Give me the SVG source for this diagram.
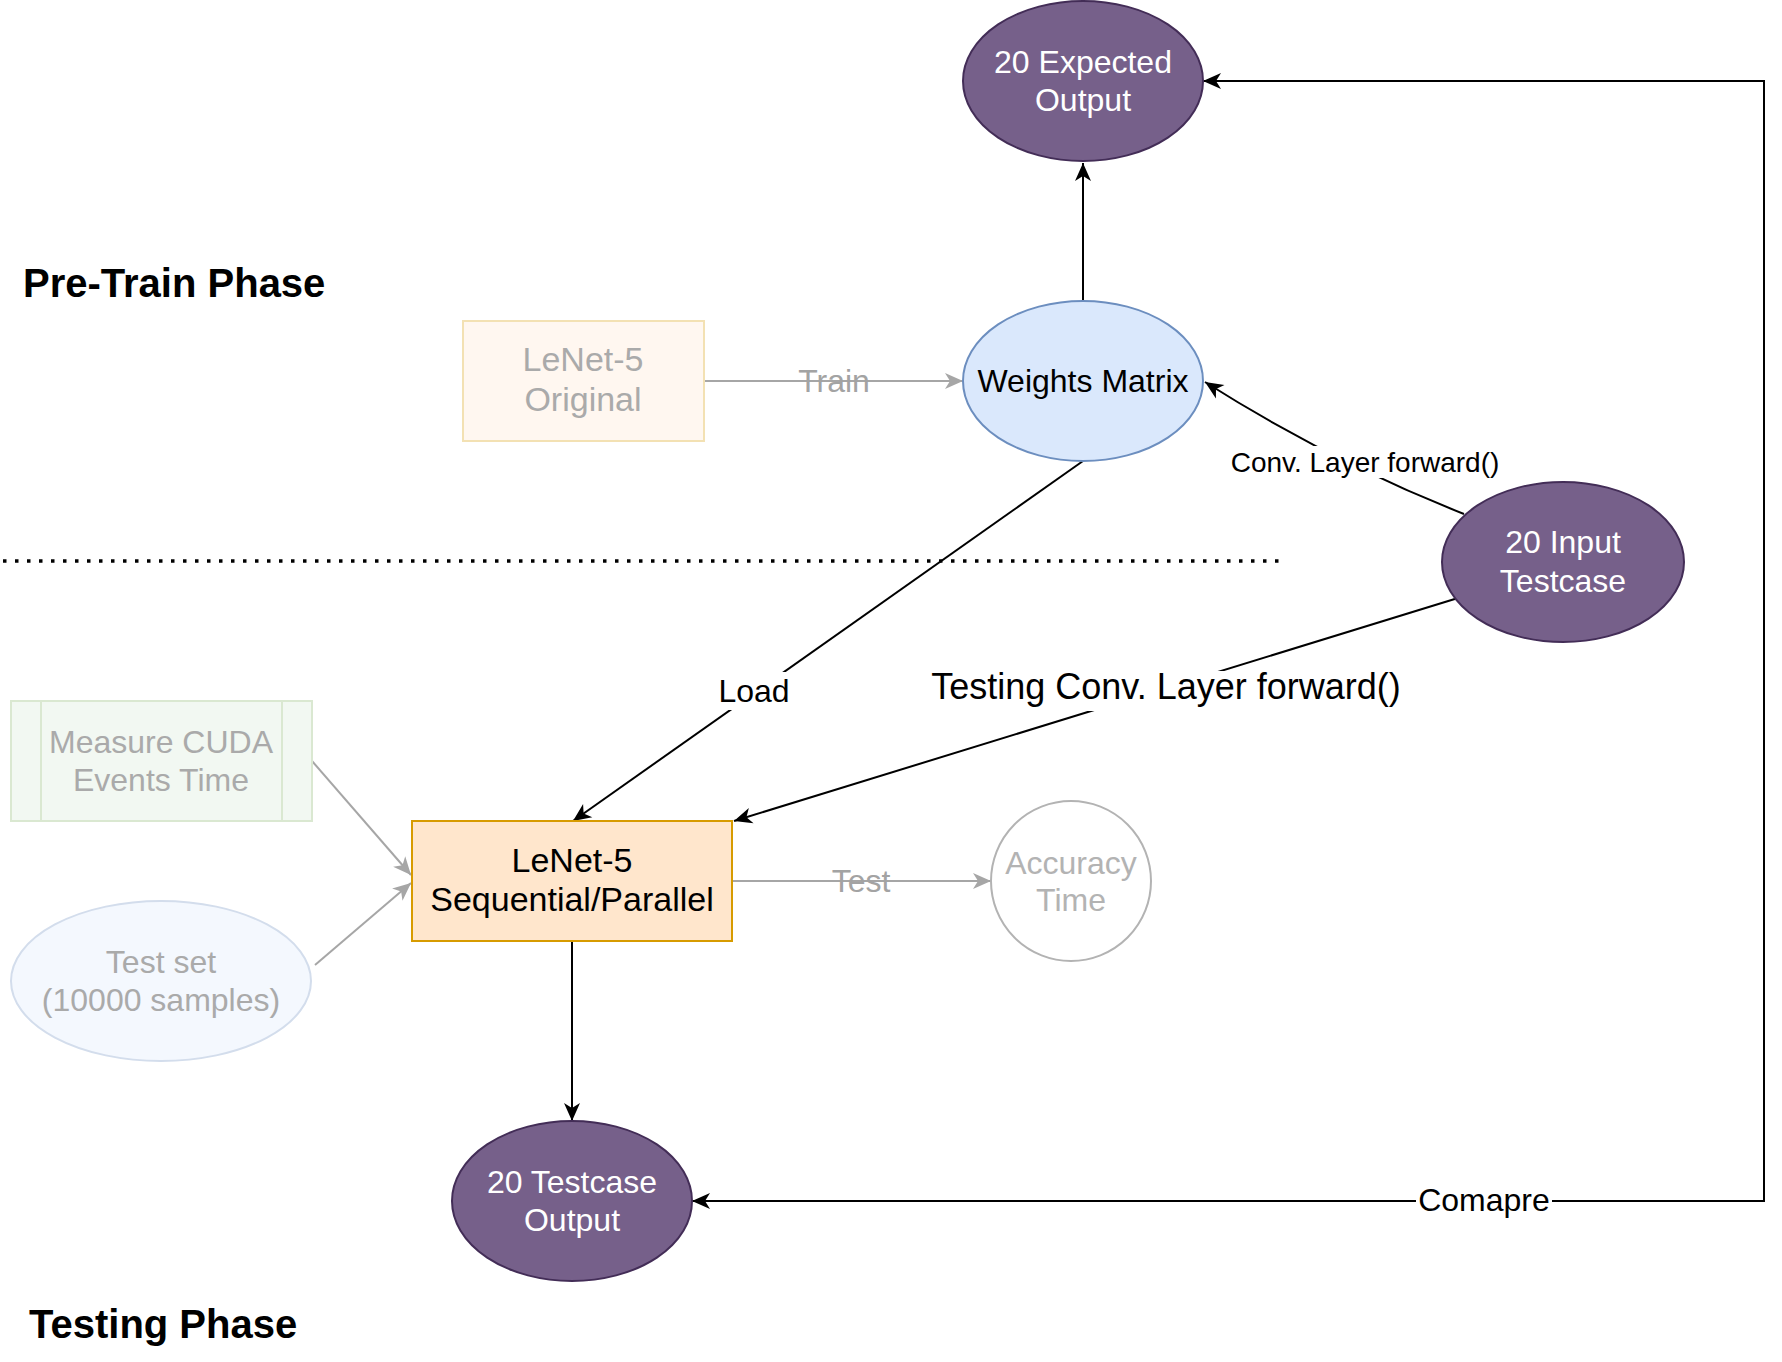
<svg xmlns="http://www.w3.org/2000/svg" width="1782" height="1362" viewBox="0 0 1782 1362">
<style>
text{font-family:"Liberation Sans",Arial,Helvetica,sans-serif;text-anchor:middle}
.w{fill:#ffffff;font-size:32px}
.k{fill:#000000;font-size:32px}
.g{fill:#aaaaaa;font-size:32px}
.g34{fill:#aaaaaa;font-size:34px}
.k34{fill:#000000;font-size:34px}
.title{font-size:40px;font-weight:bold;fill:#000;text-anchor:start}
.purple{fill:#76608a;stroke:#432d57;stroke-width:2}
.edge{fill:none;stroke:#000;stroke-width:2}
.gedge{fill:none;stroke:#a6a6a6;stroke-width:2}
.lbl{fill:#ffffff;stroke:none}
</style>
<defs>
<marker id="arr" viewBox="-20 -10 22 20" refX="0" refY="0" markerWidth="22" markerHeight="20" markerUnits="userSpaceOnUse" orient="auto-start-reverse" overflow="visible"><path d="M0,0 L-18,-8 L-13,0 L-18,8 Z" fill="#000"/></marker>
<marker id="garr" viewBox="-20 -10 22 20" refX="0" refY="0" markerWidth="22" markerHeight="20" markerUnits="userSpaceOnUse" orient="auto" overflow="visible"><path d="M0,0 L-18,-8 L-13,0 L-18,8 Z" fill="#a6a6a6"/></marker>
</defs>
<rect width="1782" height="1362" fill="#ffffff"/>

<g id="phases">
<text class="title" x="23" y="297">Pre-Train Phase</text>
<text class="title" x="29" y="1338">Testing Phase</text>
<line x1="3" y1="561" x2="1287" y2="561" stroke="#000" stroke-width="3.5" stroke-dasharray="3.5 8.5"/>
</g>

<g id="connectors">
<path class="edge" d="M1083,301 L1083,163" marker-end="url(#arr)"/>
<path class="gedge" d="M704,381 L963,381" marker-end="url(#garr)"/>
<text class="g" x="834" y="392" style="fill:#a3a3a3">Train</text>
<path class="edge" d="M1464,514 Q1328,460 1205,382" marker-end="url(#arr)"/>
<rect class="lbl" x="1229" y="446" width="272" height="32"/>
<text class="k" x="1365" y="472" style="font-size:28px">Conv. Layer forward()</text>
<path class="edge" d="M1083,461 L573,821" marker-end="url(#arr)"/>
<rect class="lbl" x="716" y="672" width="76" height="38"/>
<text class="k" x="754" y="702">Load</text>
<path class="edge" d="M1458,598 L734,821" marker-end="url(#arr)"/>
<rect class="lbl" x="920" y="671" width="492" height="40"/>
<text class="k" x="1166" y="699" style="font-size:36px">Testing Conv. Layer forward()</text>
<path class="gedge" d="M312,761 L411,875" marker-end="url(#garr)"/>
<path class="gedge" d="M315,965 L411,883" marker-end="url(#garr)"/>
<path class="gedge" d="M732,881 L991,881" marker-end="url(#garr)"/>
<text class="g" x="861" y="892" style="fill:#a3a3a3">Test</text>
<path class="edge" d="M572,941 L572,1121" marker-end="url(#arr)"/>
<path class="edge" d="M1203,81 L1764,81 L1764,1201 L692,1201" marker-start="url(#arr)" marker-end="url(#arr)"/>
<rect class="lbl" x="1416" y="1182" width="136" height="38"/>
<text class="k" x="1484" y="1211">Comapre</text>
</g>

<g id="expected-output">
<ellipse class="purple" cx="1083" cy="81" rx="120" ry="80"/>
<text class="w" x="1083" y="73">20 Expected</text>
<text class="w" x="1083" y="111">Output</text>
</g>

<g id="weights-matrix">
<ellipse cx="1083" cy="381" rx="120" ry="80" fill="#dae8fc" stroke="#6c8ebf" stroke-width="2"/>
<text class="k" x="1083" y="392">Weights Matrix</text>
</g>

<g id="lenet-original">
<rect x="463" y="321" width="241" height="120" fill="#fff7f0" stroke="#f3e1b3" stroke-width="2"/>
<text class="g34" x="583" y="371">LeNet-5</text>
<text class="g34" x="583" y="411">Original</text>
</g>

<g id="input-testcase">
<ellipse class="purple" cx="1563" cy="562" rx="121" ry="80"/>
<text class="w" x="1563" y="553">20 Input</text>
<text class="w" x="1563" y="592">Testcase</text>
</g>

<g id="measure-cuda">
<rect x="11" y="701" width="301" height="120" fill="#f2f8f2" stroke="#dae8d1" stroke-width="2"/>
<line x1="41" y1="701" x2="41" y2="821" stroke="#dae8d1" stroke-width="2"/>
<line x1="282" y1="701" x2="282" y2="821" stroke="#dae8d1" stroke-width="2"/>
<text class="g" x="161" y="753">Measure CUDA</text>
<text class="g" x="161" y="791">Events Time</text>
</g>

<g id="test-set">
<ellipse cx="161" cy="981" rx="150" ry="80" fill="#f4f8fe" stroke="#d3ddec" stroke-width="2"/>
<text class="g" x="161" y="973">Test set</text>
<text class="g" x="161" y="1011">(10000 samples)</text>
</g>

<g id="lenet-seqpar">
<rect x="412" y="821" width="320" height="120" fill="#ffe6cc" stroke="#d79b00" stroke-width="2"/>
<text class="k34" x="572" y="872">LeNet-5</text>
<text class="k34" x="572" y="911">Sequential/Parallel</text>
</g>

<g id="accuracy-time">
<circle cx="1071" cy="881" r="80" fill="#ffffff" stroke="#b3b3b3" stroke-width="2"/>
<text class="g" x="1071" y="874" style="fill:#b3b3b3">Accuracy</text>
<text class="g" x="1071" y="911" style="fill:#b3b3b3">Time</text>
</g>

<g id="testcase-output">
<ellipse class="purple" cx="572" cy="1201" rx="120" ry="80"/>
<text class="w" x="572" y="1193">20 Testcase</text>
<text class="w" x="572" y="1231">Output</text>
</g>
</svg>
